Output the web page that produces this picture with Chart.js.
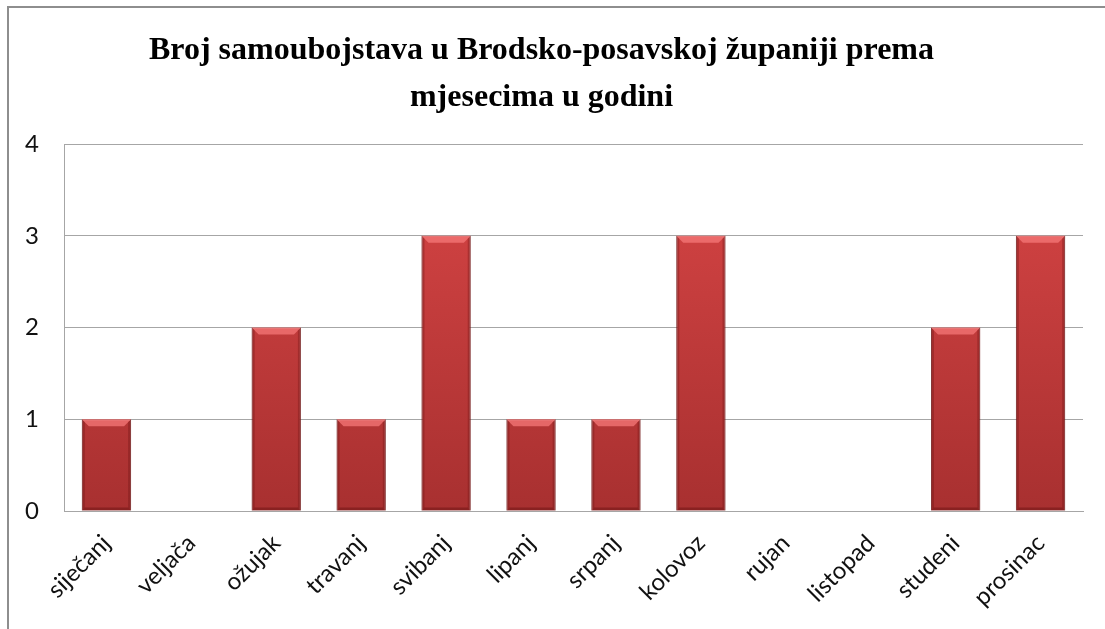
<!DOCTYPE html>
<html>
<head>
<meta charset="utf-8">
<script src="https://cdn.jsdelivr.net/npm/chart.js@4"></script>
<style>
  html, body { margin: 0; padding: 0; background: #fff; overflow: hidden; }
  #frame { position: absolute; left: 7px; top: 6px; width: 1120px; height: 640px; border: 2px solid #8e8e8e; box-sizing: border-box; }
  #wrap { position: absolute; left: 0; top: 0; width: 1105px; height: 629px; }
</style>
</head>
<body>
<div id="frame"></div>
<div id="wrap"><canvas id="suicideChart" width="1105" height="629"></canvas></div>
<script>
// Months (Croatian) and number of suicides per month
const months = ['siječanj', 'veljača', 'ožujak', 'travanj', 'svibanj', 'lipanj',
                'srpanj', 'kolovoz', 'rujan', 'listopad', 'studeni', 'prosinac'];
const counts = [1, 0, 2, 1, 3, 1, 1, 3, 0, 0, 2, 3];
const yTicks = [0, 1, 2, 3, 4];
const titleLines = ['Broj samoubojstava u Brodsko-posavskoj županiji prema', 'mjesecima u godini'];

// Bevelled look of the bars (light top edge, darker sides)
const bevelPlugin = {
    id: 'bevel',
    afterDatasetsDraw(chart) {
        const ctx = chart.ctx;
        chart.getDatasetMeta(0).data.forEach((bar, i) => {
            if (!counts[i]) return;
            const left = bar.x - bar.width / 2, right = bar.x + bar.width / 2;
            const top = bar.y, bottom = bar.base;
            const b = 7;
            ctx.save();
            // top bevel
            ctx.fillStyle = 'rgba(245, 120, 120, 0.75)';
            ctx.beginPath();
            ctx.moveTo(left, top);
            ctx.lineTo(right, top);
            ctx.lineTo(right - b, top + b);
            ctx.lineTo(left + b, top + b);
            ctx.closePath();
            ctx.fill();
            // side shading
            ctx.fillStyle = 'rgba(110, 20, 20, 0.35)';
            ctx.beginPath();
            ctx.moveTo(left, top);
            ctx.lineTo(left + 3, top + 3);
            ctx.lineTo(left + 3, bottom - 3);
            ctx.lineTo(left, bottom);
            ctx.closePath();
            ctx.fill();
            ctx.beginPath();
            ctx.moveTo(right, top);
            ctx.lineTo(right - 3, top + 3);
            ctx.lineTo(right - 3, bottom - 3);
            ctx.lineTo(right, bottom);
            ctx.closePath();
            ctx.fill();
            // bottom bevel
            ctx.fillStyle = 'rgba(100, 15, 15, 0.45)';
            ctx.beginPath();
            ctx.moveTo(left, bottom);
            ctx.lineTo(right, bottom);
            ctx.lineTo(right - 3, bottom - 3);
            ctx.lineTo(left + 3, bottom - 3);
            ctx.closePath();
            ctx.fill();
            ctx.restore();
        });
    }
};

function barGradient(context) {
    const area = context.chart.chartArea;
    if (!area) return '#c83a3a';
    const g = context.chart.ctx.createLinearGradient(0, area.top, 0, area.bottom);
    g.addColorStop(0, '#d94646');
    g.addColorStop(1, '#a83030');
    return g;
}

var ctx = document.getElementById('suicideChart').getContext('2d');
var myChart = new Chart(ctx, {
    type: 'bar',
    data: {
        labels: months,
        datasets: [{
            data: counts,
            backgroundColor: barGradient,
            borderColor: 'rgba(120, 30, 30, 0.8)',
            borderWidth: 1,
            barPercentage: 0.58,
            categoryPercentage: 1.0
        }]
    },
    options: {
        responsive: false,
        animation: false,
        devicePixelRatio: 1,
        layout: { padding: { left: 0, right: 22, top: 0, bottom: 0 } },
        plugins: {
            legend: { display: false },
            tooltip: { enabled: false },
            title: {
                display: true,
                text: titleLines,
                color: '#000',
                font: { family: '"Liberation Serif", "Times New Roman", serif', size: 32, weight: 'bold', lineHeight: 1.47 },
                padding: { top: 27, bottom: 23 }
            }
        },
        scales: {
            y: {
                min: 0,
                max: 4,
                afterBuildTicks: axis => { axis.ticks = yTicks.map(v => ({ value: v })); },
                afterFit: axis => { axis.width = 64; },
                grid: { color: '#a6a6a6', lineWidth: 1, drawTicks: false },
                border: { display: true, color: '#a6a6a6' },
                ticks: {
                    color: '#111',
                    padding: 25,
                    font: { family: 'Lato, "Noto Sans", sans-serif', size: 24 }
                }
            },
            x: {
                afterFit: axis => { axis.height = 118; },
                grid: { display: false, drawTicks: false },
                border: { display: true, color: '#a6a6a6' },
                ticks: {
                    color: '#111',
                    padding: 18,
                    minRotation: 45,
                    maxRotation: 45,
                    autoSkip: false,
                    font: { family: 'Lato, "Noto Sans", sans-serif', size: 24 }
                }
            }
        }
    },
    plugins: [bevelPlugin]
});
</script>
</body>
</html>
